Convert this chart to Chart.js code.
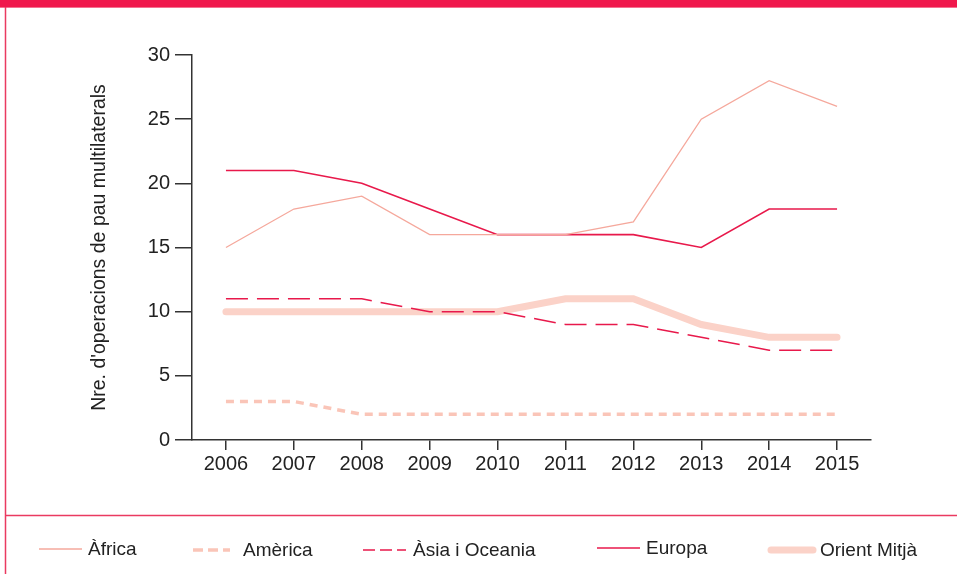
<!DOCTYPE html>
<html>
<head>
<meta charset="utf-8">
<script src="https://cdn.jsdelivr.net/npm/chart.js@4/dist/chart.umd.min.js"></script>
<style>
  html, body { margin: 0; padding: 0; background: #fff; }
  #wrap { width: 957px; height: 574px; position: relative; }
</style>
</head>
<body>
<div id="wrap"><canvas id="peace-chart" width="957" height="574"></canvas></div>
<script>
const years = ["2006", "2007", "2008", "2009", "2010", "2011", "2012", "2013", "2014", "2015"];
const africa = [15, 18, 19, 16, 16, 16, 17, 25, 28, 26];
const america = [3, 3, 2, 2, 2, 2, 2, 2, 2, 2];
const asiaOceania = [11, 11, 11, 10, 10, 9, 9, 8, 7, 7];
const europe = [21, 21, 20, 18, 16, 16, 16, 15, 18, 18];
const middleEast = [10, 10, 10, 10, 10, 11, 11, 9, 8, 8];

const yTitle = "Nre. d'operacions de pau multilaterals";
const fontFamily = "'Liberation Sans', Arial, sans-serif";

// legend sample positions (line start, line end, text start, y)
const legendSlots = [
  [39, 82, 88, 549],
  [193, 230, 243, 550],
  [363, 406, 413, 550],
  [597, 640, 646, 548],
  [771, 813, 820, 550]
];

const framePlugin = {
  id: "frame",
  beforeDraw(chart) {
    const ctx = chart.ctx;
    ctx.save();
    ctx.fillStyle = "#f0184c";
    ctx.fillRect(0, 0, 957, 7);
    ctx.fillStyle = "#f5708f";
    ctx.fillRect(0, 7, 957, 1);
    ctx.strokeStyle = "#ea3a60";
    ctx.lineWidth = 1.5;
    ctx.beginPath();
    ctx.moveTo(5.5, 7);
    ctx.lineTo(5.5, 574);
    ctx.moveTo(5, 515.5);
    ctx.lineTo(957, 515.5);
    ctx.stroke();
    ctx.restore();
  },
  afterDraw(chart) {
    const ctx = chart.ctx;
    ctx.save();
    chart.data.datasets.forEach((ds, i) => {
      const [x1, x2, tx, y] = legendSlots[i];
      ctx.strokeStyle = ds.borderColor;
      ctx.lineWidth = ds.borderWidth;
      ctx.lineCap = ds.borderWidth > 4 ? "round" : "butt";
      ctx.setLineDash(ds.legendDash || []);
      ctx.beginPath();
      ctx.moveTo(x1, y);
      ctx.lineTo(x2, y);
      ctx.stroke();
      ctx.setLineDash([]);
      ctx.fillStyle = "#222";
      ctx.font = "19px " + fontFamily;
      ctx.textBaseline = "middle";
      ctx.textAlign = "left";
      ctx.fillText(ds.label, tx, y + 1);
    });
    ctx.restore();
  }
};

new Chart("peace-chart", {
  type: "line",
  data: {
    labels: years,
    datasets: [{
      label: "Àfrica",
      data: africa,
      borderColor: "#f5a89c",
      borderWidth: 1.3
    }, {
      label: "Amèrica",
      data: america,
      borderColor: "#fac5b8",
      borderWidth: 3.5,
      borderDash: [8, 6],
      legendDash: [10, 5]
    }, {
      label: "Àsia i Oceania",
      data: asiaOceania,
      borderColor: "#e8194b",
      borderWidth: 1.5,
      borderDash: [22, 9],
      legendDash: [12, 5]
    }, {
      label: "Europa",
      data: europe,
      borderColor: "#e8194b",
      borderWidth: 1.6
    }, {
      label: "Orient Mitjà",
      data: middleEast,
      borderColor: "#fbd2c8",
      borderWidth: 7,
      borderCapStyle: "round"
    }]
  },
  options: {
    responsive: false,
    animation: false,
    layout: { padding: { top: 55, right: 86, left: 0, bottom: 0 } },
    elements: {
      point: { radius: 0 },
      line: { tension: 0 }
    },
    plugins: {
      legend: { display: false },
      tooltip: { enabled: false }
    },
    scales: {
      x: {
        offset: true,
        grid: { drawOnChartArea: false, tickLength: 10, color: "#333", lineWidth: 1.5 },
        border: { color: "#333", width: 1.5 },
        ticks: { color: "#222", font: { family: fontFamily, size: 20 }, padding: 2, maxRotation: 0 },
        afterFit(scale) { scale.height = 134; }
      },
      y: {
        min: 0,
        max: 30,
        ticks: { stepSize: 5, color: "#222", font: { family: fontFamily, size: 20 }, padding: 5 },
        grid: { drawOnChartArea: false, tickLength: 17, color: "#333", lineWidth: 1.5 },
        border: { color: "#333", width: 1.5 },
        title: {
          display: true,
          text: yTitle,
          color: "#222",
          font: { family: fontFamily, size: 19.5 },
          padding: { top: 88, bottom: 0 }
        },
        afterFit(scale) { scale.width = 192; }
      }
    }
  },
  plugins: [framePlugin]
});
</script>
</body>
</html>
